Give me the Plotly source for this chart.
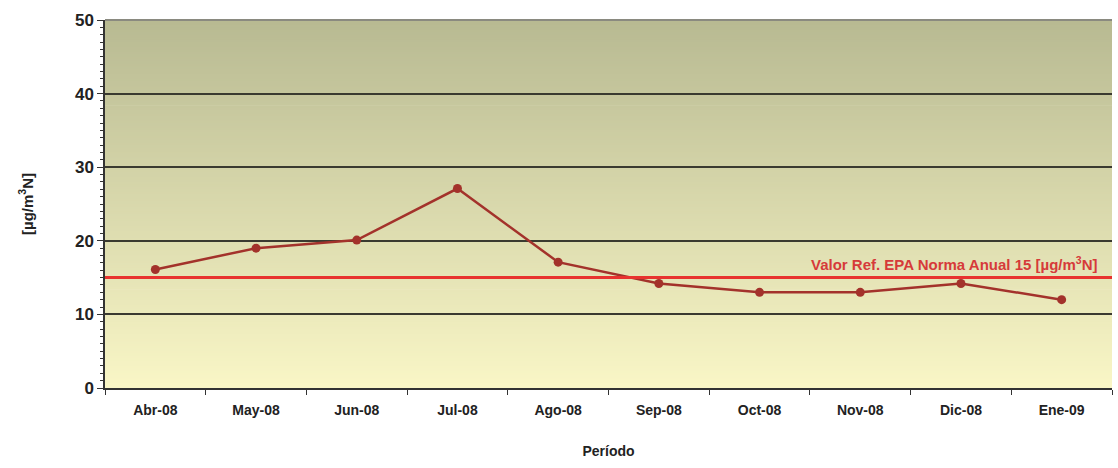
import plotly.graph_objects as go

periodos = ["Abr-08", "May-08", "Jun-08", "Jul-08", "Ago-08", "Sep-08", "Oct-08", "Nov-08", "Dic-08", "Ene-09"]
valores = [16.1, 19.0, 20.1, 27.1, 17.1, 14.2, 13.0, 13.0, 14.2, 12.0]
norma_epa = 15
y_ticks = [0, 10, 20, 30, 40, 50]

fig = go.Figure()

# gradient background (plot area)
n = 150
top = (184, 186, 146)
bot = (249, 246, 198)
shapes = []
for i in range(n):
    t = i / (n - 1)
    c = tuple(int(round(bot[k] + (top[k] - bot[k]) * t)) for k in range(3))
    shapes.append(dict(type="rect", xref="x domain", yref="y domain",
                       x0=0, x1=1, y0=i / n, y1=(i + 1) / n + 0.002,
                       fillcolor="rgb(%d,%d,%d)" % c, line=dict(width=0), layer="below"))
# top border (grey)
shapes.append(dict(type="line", xref="x domain", yref="y domain", x0=0, x1=1, y0=1, y1=1,
                   line=dict(color="#8a8a80", width=2), layer="above"))
# EPA reference line
shapes.append(dict(type="line", xref="x domain", yref="y", x0=0, x1=1,
                   y0=norma_epa, y1=norma_epa, line=dict(color="#e8332f", width=3), layer="above"))

fig.add_trace(go.Scatter(
    x=periodos, y=valores, mode="lines+markers",
    line=dict(color="#a3322b", width=2.5),
    marker=dict(color="#a3322b", size=9),
    showlegend=False, cliponaxis=False,
))

fig.add_annotation(
    xref="x domain", yref="y", x=0.988, y=norma_epa, xanchor="right", yanchor="bottom",
    yshift=3, showarrow=False,
    text="<b>Valor Ref. EPA Norma Anual 15 [µg/m<sup>3</sup>N]</b>",
    font=dict(family="Liberation Sans", size=15, color="#d63a3a"),
)

fig.update_layout(
    width=1118, height=468,
    margin=dict(l=105, r=6, t=20, b=80, autoexpand=False),
    paper_bgcolor="white",
    plot_bgcolor="rgba(0,0,0,0)",
    shapes=shapes,
    font=dict(family="Liberation Sans", color="#222"),
)

fig.update_xaxes(
    type="category", range=[-0.5, 9.5],
    showgrid=False, showline=True, linecolor="#333", linewidth=1.5,
    ticks="outside", ticklen=5, tickcolor="#333", tickson="boundaries",
    ticklabelstandoff=8,
    tickfont=dict(family="Liberation Sans", size=14, color="#222", weight="bold"),
    title=dict(text="<b>Período</b>", font=dict(family="Liberation Sans", size=14, color="#222"), standoff=30),
)
fig.update_yaxes(
    range=[0, 50], tickvals=y_ticks,
    showgrid=True, gridcolor="#3a3a30", gridwidth=1.5,
    showline=True, linecolor="#333", linewidth=1.5,
    ticks="outside", ticklen=6, tickcolor="#333",
    minor=dict(dtick=1, ticks="outside", ticklen=3, tickcolor="#333", showgrid=False),
    tickfont=dict(family="Liberation Sans", size=17, color="#222", weight="bold"),
    title=dict(text="<b>[µg/m<sup>3</sup>N]</b>", font=dict(family="Liberation Sans", size=15, color="#222"), standoff=38),
    zeroline=False,
)

fig.write_html("out.html", config={"displayModeBar": False},
               post_script="document.body.style.margin='0';document.body.style.overflow='hidden';")
